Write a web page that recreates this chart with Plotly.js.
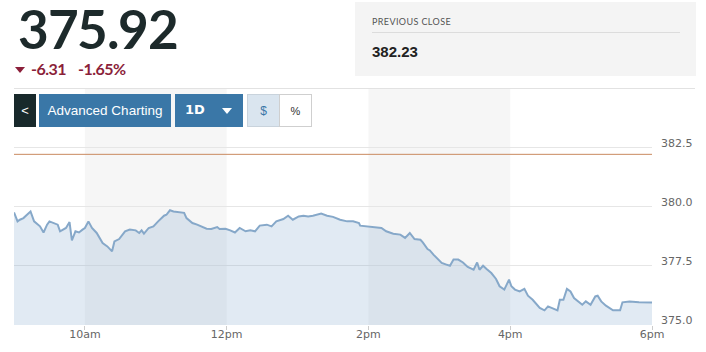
<!DOCTYPE html>
<html><head><meta charset="utf-8">
<script src="https://cdn.plot.ly/plotly-3.0.1.min.js"></script>
<style>
@font-face{font-family:'LatoPrice';src:local('Lato Bold'),local('Lato-Bold');font-weight:700;ascent-override:80%;descent-override:20%;line-gap-override:0%;}
html,body{margin:0;padding:0;background:#fff;}
#wrap{position:relative;width:706px;height:352px;overflow:hidden;font-family:Lato,sans-serif;}
#chart{position:absolute;left:0;top:0;width:706px;height:352px;}
.abs{position:absolute;white-space:nowrap;z-index:5;}
.btn{position:absolute;top:94px;height:33px;z-index:5;display:flex;align-items:center;justify-content:center;box-sizing:border-box;font-family:"Liberation Sans",Arial,sans-serif;}
</style></head><body>
<div id="wrap">
<div id="chart"></div>
<div class="abs" id="price" style="left:18px;top:7px;font-family:'LatoPrice',Lato,sans-serif;font-size:53px;line-height:53px;color:#1d2a2b;font-weight:bold;letter-spacing:-1.5px;"></div>
<div class="abs" style="left:15px;top:67px;width:0;height:0;border-left:5px solid transparent;border-right:5px solid transparent;border-top:6px solid #8b1f3a;"></div>
<div class="abs" id="chg" style="left:31px;top:61px;font-size:16px;line-height:16px;color:#8b1f3a;font-weight:bold;letter-spacing:-0.5px;"></div>
<div class="abs" id="chgp" style="left:78px;top:61px;font-size:16px;line-height:16px;color:#8b1f3a;font-weight:bold;letter-spacing:-0.5px;"></div>
<div class="abs" style="left:355px;top:2px;width:341px;height:74px;background:#f4f4f4;z-index:4;"></div>
<div class="abs" id="pclabel" style="left:372px;top:17px;font-size:9px;line-height:9px;color:#555;letter-spacing:0.4px;"></div>
<div class="abs" style="left:372px;top:32px;width:308px;height:1px;background:#dcdcdc;"></div>
<div class="abs" id="pcval" style="left:372px;top:44px;font-family:'Liberation Sans',Arial,sans-serif;font-weight:bold;font-size:15px;line-height:15px;color:#222;"></div>
<div class="abs" style="left:14px;top:88px;width:681px;height:1px;background:#e2e2e2;"></div>
<div class="btn" style="left:14px;width:22px;background:#18292b;color:#fff;font-size:13px;">&lt;</div>
<div class="btn" id="adv" style="left:39px;width:132px;background:#3a77a7;color:#fff;font-size:13.5px;"></div>
<div class="btn" style="left:175px;width:68px;background:#3a77a7;color:#fff;justify-content:flex-start;">
  <span id="range" style="position:absolute;left:10px;top:8px;font-family:'DejaVu Sans';font-weight:bold;font-size:13px;line-height:16px;"></span>
  <span style="position:absolute;left:47px;top:14px;width:0;height:0;border-left:5px solid transparent;border-right:5px solid transparent;border-top:6px solid #fff;"></span>
</div>
<div class="btn" style="left:247px;width:33px;background:#dae5ef;border:1px solid #c9d3dc;color:#3a77a7;font-size:12px;">$</div>
<div class="btn" style="left:279px;width:33px;background:#fff;border:1px solid #cfcfcf;color:#333;font-size:11px;">%</div>
</div>
<script>
const lastPrice = "375.92";
const changeAbs = "-6.31";
const changePct = "-1.65%";
const prevCloseLabel = "PREVIOUS CLOSE";
const prevClose = 382.23;
const advLabel = "Advanced Charting";
const rangeLabel = "1D";

const times = ["09:00","09:03","09:05","09:08","09:11","09:14","09:17","09:20","09:22","09:25","09:28","09:30","09:34","09:37","09:39","09:44","09:47","09:49","09:52","09:55","09:58",
"10:00","10:03","10:06","10:10","10:15","10:19","10:23","10:25","10:29","10:34","10:38","10:43","10:46","10:48","10:50","10:54","10:58",
"11:02","11:07","11:09","11:12","11:15","11:19","11:24","11:26","11:31","11:35","11:39","11:43","11:47","11:52","11:54","11:59",
"12:03","12:07","12:11","12:16","12:20","12:24","12:28","12:34","12:38","12:42","12:48","12:52","12:56",
"13:01","13:05","13:09","13:13","13:20","13:25","13:30","13:36","13:42","13:47","13:52","13:53","13:59",
"14:06","14:11","14:15","14:21","14:27","14:31","14:35","14:39","14:44","14:46","14:50","14:52","14:55","14:58",
"15:02","15:06","15:09","15:12","15:16","15:20","15:24","15:29","15:32","15:34","15:37","15:40","15:44","15:48","15:51","15:55","15:59",
"16:01","16:04","16:08","16:12","16:15","16:19","16:25","16:29","16:32","16:36","16:40","16:42","16:45","16:48","16:51","16:54","16:59",
"17:01","17:04","17:08","17:12","17:14","17:17","17:21","17:27","17:33","17:35","17:41","17:49","18:00"];
const prices = [379.77,379.39,379.46,379.53,379.67,379.81,379.39,379.25,379.18,378.92,379.25,379.39,379.32,379.25,378.97,379.11,379.36,378.58,378.97,378.92,379.04,
379.11,379.39,379.11,378.90,378.47,378.33,378.12,378.54,378.64,378.97,379.04,379.01,378.90,379.01,378.87,379.11,379.18,
379.39,379.63,379.67,379.86,379.81,379.77,379.75,379.53,379.32,379.25,379.15,379.08,379.07,379.15,379.07,379.08,
379.01,378.92,379.11,378.97,379.01,378.97,379.21,379.25,379.18,379.39,379.49,379.63,379.46,
379.60,379.63,379.60,379.63,379.72,379.63,379.58,379.46,379.39,379.39,379.32,379.21,379.18,
379.15,379.11,378.97,378.87,378.83,378.69,378.90,378.64,378.61,378.50,378.22,378.16,377.98,377.81,
377.63,377.56,377.51,377.77,377.77,377.65,377.46,377.34,377.65,377.34,377.51,377.37,377.20,376.95,376.64,376.50,376.92,
376.64,376.50,376.42,376.53,376.24,376.07,375.72,375.62,375.79,375.72,375.62,376.07,376.07,376.53,376.42,376.14,375.93,
375.86,376.00,375.86,376.21,376.24,376.00,375.82,375.62,375.62,375.96,376.00,375.96,375.95];

const tickTimes = ["10:00","12:00","14:00","16:00","18:00"];
const tickLabels = ["10am","12pm","2pm","4pm","6pm"];
const yTicks = [375.0, 377.5, 380.0, 382.5];
const bandStarts = ["10:00","14:00"];
const bandEnds = ["12:00","16:00"];

document.getElementById('price').textContent = lastPrice;
document.getElementById('chg').textContent = changeAbs;
document.getElementById('chgp').textContent = changePct;
document.getElementById('pclabel').textContent = prevCloseLabel;
document.getElementById('pcval').textContent = prevClose.toFixed(2);
document.getElementById('adv').textContent = advLabel;
document.getElementById('range').textContent = rangeLabel;

const day = '2024-01-02 ';
const xs = times.map(t => day + t);

const shapes = bandStarts.map((s, i) => ({
  type: 'rect', xref: 'x', yref: 'paper', x0: day + s, x1: day + bandEnds[i], y0: 0, y1: 1,
  fillcolor: '#f6f6f6', line: {width: 0}, layer: 'below'
}));
shapes.push({type: 'line', xref: 'paper', yref: 'y', x0: 0, x1: 1, y0: prevClose, y1: prevClose,
  line: {color: '#c98a60', width: 1}});

const layout = {
  width: 706, height: 352,
  margin: {l: 14, r: 54, t: 88, b: 27, pad: 0},
  paper_bgcolor: 'rgba(0,0,0,0)', plot_bgcolor: 'rgba(0,0,0,0)',
  showlegend: false,
  font: {family: 'DejaVu Sans', size: 11, color: '#666'},
  xaxis: {
    type: 'date', range: [day + '09:00', day + '18:00'],
    tickmode: 'array', tickvals: tickTimes.map(t => day + t), ticktext: tickLabels,
    ticks: 'outside', ticklen: 4, tickcolor: '#cccccc', tickwidth: 1,
    ticklabelstandoff: -5,
    showgrid: false, zeroline: false, showline: false, fixedrange: true
  },
  yaxis: {
    side: 'right', range: [375, 385.04],
    tickmode: 'array', tickvals: yTicks, ticktext: yTicks.map(v => v.toFixed(1)),
    showgrid: true, gridcolor: '#e6e6e6', gridwidth: 1, zeroline: false, showline: false,
    ticks: '', ticklabelstandoff: 8, ticklabelshift: -5, fixedrange: true
  },
  shapes: shapes
};

Plotly.newPlot('chart', [{
  x: xs, y: prices, type: 'scatter', mode: 'lines',
  line: {color: '#86a8c9', width: 2}, fill: 'tozeroy', fillcolor: 'rgba(120,160,200,0.22)',
  hoverinfo: 'skip'
}], layout, {staticPlot: true, displayModeBar: false});
</script>
</body></html>
